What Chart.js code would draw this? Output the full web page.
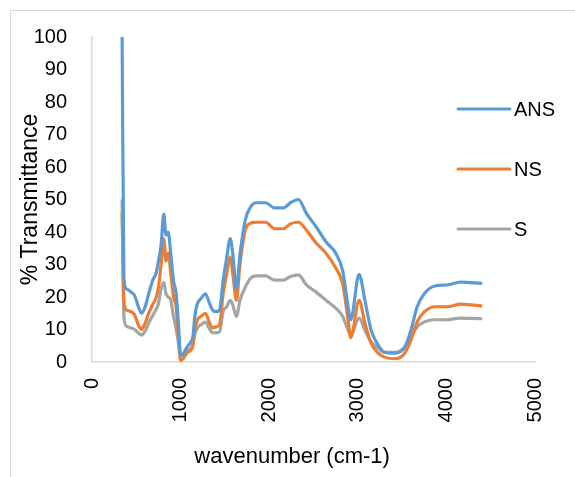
<!DOCTYPE html>
<html>
<head>
<meta charset="utf-8">
<script src="https://cdn.jsdelivr.net/npm/chart.js@4/dist/chart.umd.min.js"></script>
<style>
  html, body { margin: 0; padding: 0; background: #fff; overflow: hidden; }
  #frame { position: absolute; left: 10px; top: 10px; width: 700px; height: 600px; border: 1px solid #d9d9d9; }
  #wrap { position: absolute; left: 0; top: 0; width: 575px; height: 477px; }
</style>
</head>
<body>
<div id="frame"></div>
<div id="wrap"><canvas id="ftir" width="575" height="477"></canvas></div>
<script>
  'use strict';

  // wavenumber (cm-1) of each reading
  const wavenumber = [340, 360, 390, 440, 480, 530, 560, 600, 640, 690, 720, 750, 780, 810, 835, 860, 890, 920, 950, 975,
      1000, 1030, 1070, 1110, 1140, 1160, 1190, 1230, 1280, 1320, 1360, 1400, 1440, 1480, 1520, 1560, 1590, 1630, 1670,
      1730, 1790, 1850, 1960, 2060, 2160, 2240, 2330, 2420, 2530, 2640, 2750, 2830, 2890, 2920, 3015, 3080, 3150, 3230,
      3300, 3420, 3530, 3600, 3670, 3750, 3870, 4010, 4160, 4270, 4405];

  // % transmittance
  const ans = [100, 26, 22.5, 21.5, 20.5, 16.5, 15, 17, 21, 25.5, 27, 31, 36, 45.5, 39, 40, 33, 25, 21, 12,
      2, 2.5, 4.5, 6, 8, 14, 18, 19.5, 21, 18.5, 16, 15.5, 16, 25, 32, 38, 33, 22.5, 33,
      43.7, 47.7, 49, 49, 47.4, 47.4, 49, 50, 45.7, 41.6, 37, 33.5, 28, 17, 13, 27, 19, 9.8, 5.2,
      3, 2.7, 4.6, 9.8, 17, 21, 23.4, 23.7, 24.6, 24.4, 24.2];

  const ns = [46, 19, 16, 15.5, 14.5, 11, 10, 12, 15, 18, 19.5, 23, 30, 38, 31, 33.5, 27, 20, 17, 8,
      0.5, 1, 2.8, 3.5, 5, 10, 13, 14, 15, 12.5, 10.5, 10.8, 11.5, 21, 27, 32.3, 27, 19, 30,
      40.6, 42.7, 43, 43, 41, 41, 42.5, 43, 40.6, 36.6, 33.5, 29, 24, 13, 7.5, 19, 12, 5.8, 2.7,
      1.5, 1, 2.7, 6.8, 12.3, 15.4, 17, 17, 17.8, 17.6, 17.2];

  const s = [50, 14, 11, 10.5, 10, 8.8, 8.3, 9.5, 12, 14.5, 16, 18, 22.5, 24.5, 21, 20, 19, 14, 10, 6,
      2, 2.5, 3.5, 4, 5.5, 8.5, 10.5, 11.5, 12.3, 10.5, 9, 9, 9.3, 15.5, 17, 19, 17.5, 14, 19,
      23, 25.8, 26.5, 26.5, 25.2, 25.2, 26.3, 26.8, 23.7, 21.5, 19, 16.6, 14, 9.8, 8.3, 13.5, 9.8, 6.2, 4.3,
      3, 3, 4.6, 7.7, 10.8, 12.3, 13, 13, 13.5, 13.4, 13.3];

  const seriesNames = ['ANS', 'NS', 'S'];
  const seriesColors = ['#5B9BD5', '#ED7D31', '#A5A5A5'];

  const xTicks = [0, 1000, 2000, 3000, 4000, 5000];
  const yTicks = [0, 10, 20, 30, 40, 50, 60, 70, 80, 90, 100];

  const FONT = "'Liberation Sans', Arial, sans-serif";

  function points(values) {
      return wavenumber.map(function (w, i) { return {x: w, y: values[i]}; });
  }

  // legend drawn to the right, overlapping the plot like the Excel original
  const sideLegend = {
      id: 'sideLegend',
      afterDraw: function (chart) {
          const ctx = chart.ctx;
          ctx.save();
          chart.data.datasets.forEach(function (ds, i) {
              let y = 109 + i * 60;
              ctx.strokeStyle = ds.borderColor;
              ctx.lineWidth = 3;
              ctx.lineCap = 'round';
              ctx.beginPath();
              ctx.moveTo(458, y);
              ctx.lineTo(510, y);
              ctx.stroke();
              ctx.fillStyle = '#000';
              ctx.font = '20px ' + FONT;
              ctx.textBaseline = 'middle';
              ctx.textAlign = 'left';
              ctx.fillText(ds.label, 514, y + 1);
          });
          ctx.restore();
      }
  };

  new Chart(document.getElementById('ftir'), {
      type: 'line',
      data: {
          datasets: [ans, ns, s].map(function (vals, i) {
              return {
                  label: seriesNames[i],
                  data: points(vals),
                  borderColor: seriesColors[i],
                  backgroundColor: seriesColors[i],
                  borderWidth: 3.2,
                  pointRadius: 0,
                  cubicInterpolationMode: 'monotone',
                  fill: false
              };
          })
      },
      options: {
          responsive: false,
          animation: false,
          devicePixelRatio: 1,
          layout: {padding: {left: 13, top: 37, right: 37, bottom: 7}},
          plugins: {
              legend: {display: false},
              tooltip: {enabled: false}
          },
          scales: {
              x: {
                  type: 'linear',
                  min: 0,
                  max: 5000,
                  afterBuildTicks: function (scale) {
                      scale.ticks = xTicks.map(function (v) { return {value: v}; });
                  },
                  afterFit: function (scale) { scale.height = 108; },
                  grid: {display: false, drawTicks: false},
                  border: {display: true, color: '#d9d9d9', width: 1.5},
                  ticks: {
                      minRotation: 90,
                      maxRotation: 90,
                      padding: 16,
                      color: '#000',
                      font: {family: FONT, size: 20},
                      callback: function (v) { return String(v); }
                  },
                  title: {
                      display: true,
                      text: 'wavenumber (cm-1)' + '\u00a0'.repeat(7),
                      color: '#000',
                      padding: {top: 0, bottom: 0},
                      font: {family: FONT, size: 22}
                  }
              },
              y: {
                  min: 0,
                  max: 100,
                  afterBuildTicks: function (scale) {
                      scale.ticks = yTicks.map(function (v) { return {value: v}; });
                  },
                  afterFit: function (scale) { scale.width = 79; },
                  grid: {display: false, drawTicks: false},
                  border: {display: true, color: '#d9d9d9', width: 1.5},
                  ticks: {
                      padding: 25,
                      color: '#000',
                      font: {family: FONT, size: 20},
                      callback: function (v) { return String(v); }
                  },
                  title: {
                      display: true,
                      text: '% Transmittance',
                      color: '#000',
                      padding: {top: 4, bottom: 0},
                      font: {family: FONT, size: 23}
                  }
              }
          }
      },
      plugins: [sideLegend]
  });
</script>
</body>
</html>
